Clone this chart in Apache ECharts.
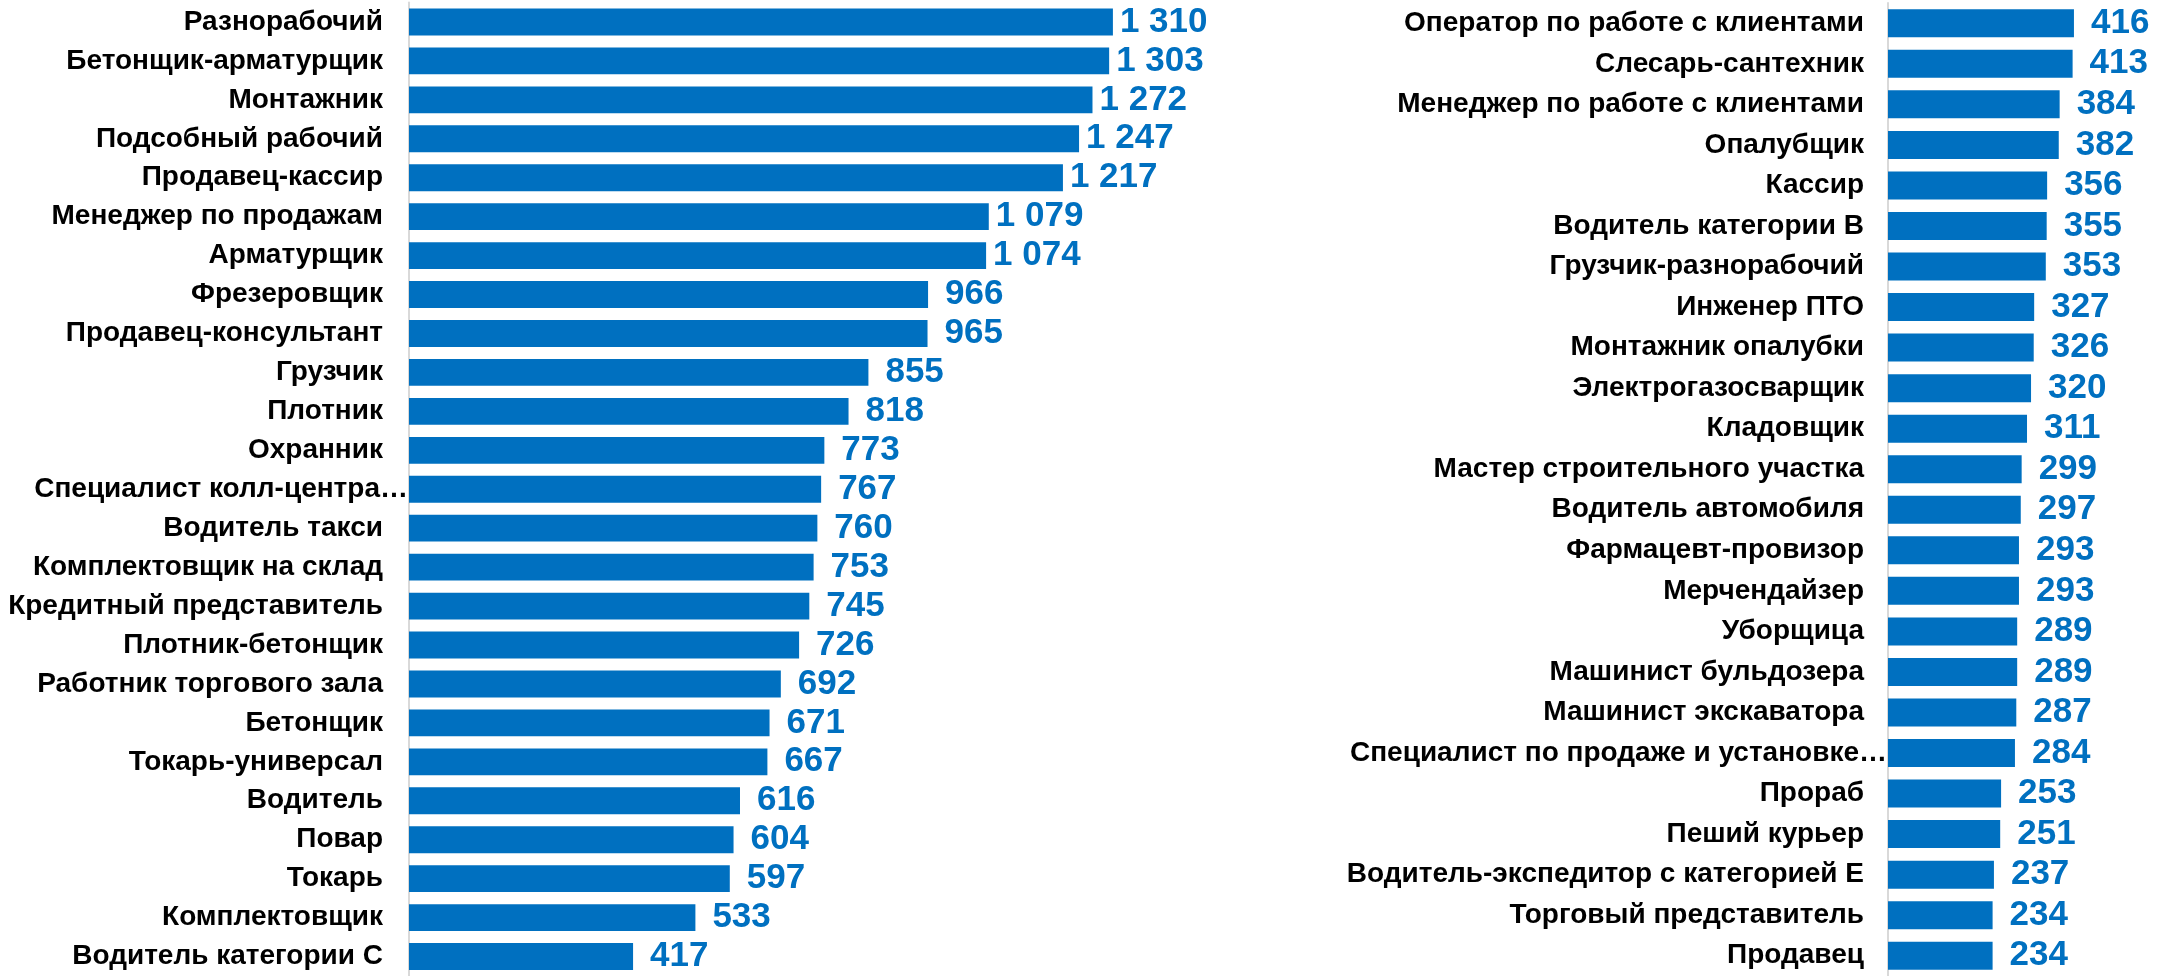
<!DOCTYPE html>
<html>
<head>
<meta charset="utf-8">
<script src="https://cdn.jsdelivr.net/npm/echarts@6/dist/echarts.min.js"></script>
<style>
  html, body { margin: 0; padding: 0; background: #fff; }
  #chart { width: 2162px; height: 976px; }
</style>
</head>
<body>
<div id="chart"></div>
<script>
// левая часть
const leftNames = [
  'Разнорабочий', 'Бетонщик-арматурщик', 'Монтажник', 'Подсобный рабочий',
  'Продавец-кассир', 'Менеджер по продажам', 'Арматурщик', 'Фрезеровщик',
  'Продавец-консультант', 'Грузчик', 'Плотник', 'Охранник',
  'Специалист колл-центра…', 'Водитель такси', 'Комплектовщик на склад',
  'Кредитный представитель', 'Плотник-бетонщик', 'Работник торгового зала',
  'Бетонщик', 'Токарь-универсал', 'Водитель', 'Повар', 'Токарь',
  'Комплектовщик', 'Водитель категории С'
]
const leftValues = [
  1310, 1303, 1272, 1247, 1217, 1079, 1074, 966, 965, 855, 818, 773,
  767, 760, 753, 745, 726, 692, 671, 667, 616, 604, 597, 533, 417
]

// правая часть
const rightNames = [
  'Оператор по работе с клиентами', 'Слесарь-сантехник',
  'Менеджер по работе с клиентами', 'Опалубщик', 'Кассир',
  'Водитель категории В', 'Грузчик-разнорабочий', 'Инженер ПТО',
  'Монтажник опалубки', 'Электрогазосварщик', 'Кладовщик',
  'Мастер строительного участка', 'Водитель автомобиля',
  'Фармацевт-провизор', 'Мерчендайзер', 'Уборщица', 'Машинист бульдозера',
  'Машинист экскаватора', 'Специалист по продаже и установке…', 'Прораб',
  'Пеший курьер', 'Водитель-экспедитор с категорией Е',
  'Торговый представитель', 'Продавец'
]
const rightValues = [
  416, 413, 384, 382, 356, 355, 353, 327, 326, 320, 311, 299,
  297, 293, 293, 289, 289, 287, 284, 253, 251, 237, 234, 234
]

const BLUE = '#0070C0'
const FONT = '"Liberation Sans", Arial, sans-serif'

const fmt = (v) => String(v).replace(/\B(?=(\d{3})+(?!\d))/g, ' ')

// обрезанные подписи в оригинале доходят до самой оси
const catLabel = (v) => (v.endsWith('…') ? '{e|' + v + '}' : '{n|' + v + '}')

function richFor(gap) {
  const base = { fontSize: 28, fontWeight: 'bold', color: '#000', fontFamily: FONT }
  return {
    n: { ...base, padding: [0, gap, 0, 0] },
    e: { ...base, padding: [0, 0, 0, 0] },
  }
}

function yAxisFor(idx, names, gap) {
  return {
    type: 'category',
    gridIndex: idx,
    inverse: true,
    data: names,
    axisLine: { show: true, lineStyle: { color: '#D9D9D9', width: 2 } },
    axisTick: { show: false },
    axisLabel: { margin: 1, formatter: catLabel, rich: richFor(gap) },
  }
}

function xAxisFor(idx, max) {
  return {
    type: 'value',
    gridIndex: idx,
    min: 0,
    max: max,
    show: false,
    splitLine: { show: false },
  }
}

function seriesFor(idx, values) {
  return {
    type: 'bar',
    xAxisIndex: idx,
    yAxisIndex: idx,
    // четырёхзначные подписи в оригинале стоят ближе к столбцу
    data: values.map((v) => (v >= 1000 ? { value: v, label: { distance: 7 } } : v)),
    barCategoryGap: '31%',
    itemStyle: { color: BLUE },
    label: {
      show: true,
      position: 'right',
      distance: 17,
      color: BLUE,
      fontSize: 35,
      fontWeight: 'bold',
      fontFamily: FONT,
      formatter: (p) => fmt(p.value),
    },
    silent: true,
  }
}

const chart = echarts.init(document.getElementById('chart'))
chart.setOption({
  animation: false,
  backgroundColor: '#fff',
  grid: [
    { left: 409, top: 2.5, width: 806, height: 977 },
    { left: 1888, top: 3, width: 223.5, height: 976 },
  ],
  xAxis: [xAxisFor(0, 1500), xAxisFor(1, 500)],
  yAxis: [yAxisFor(0, leftNames, 25), yAxisFor(1, rightNames, 23)],
  series: [seriesFor(0, leftValues), seriesFor(1, rightValues)],
})

window.addEventListener('resize', () => chart.resize())
</script>
</body>
</html>
